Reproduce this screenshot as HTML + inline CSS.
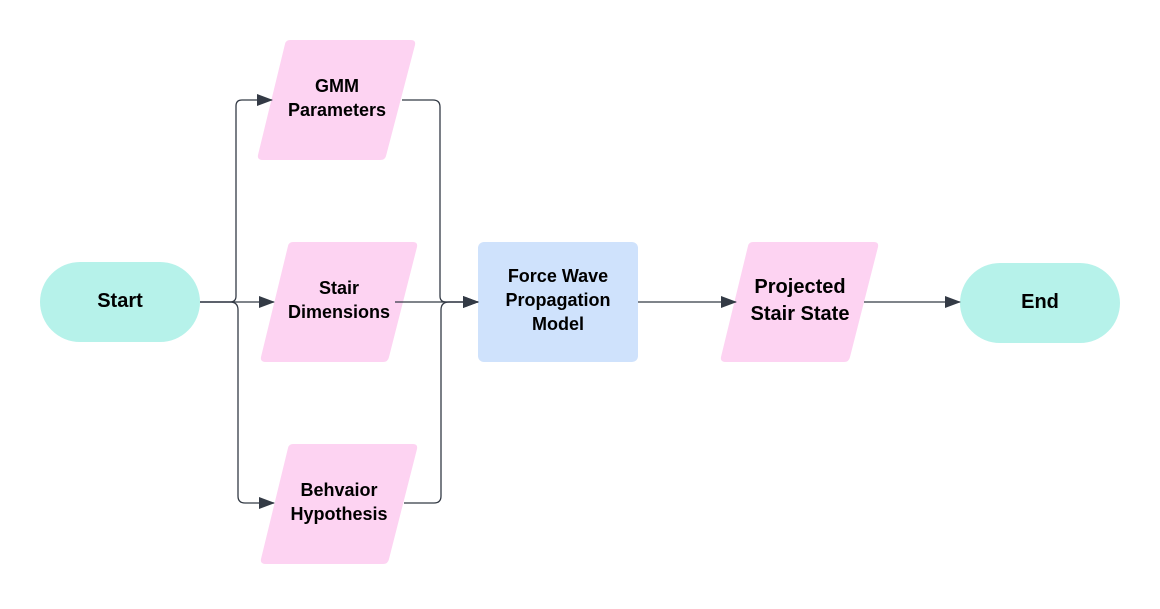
<!DOCTYPE html>
<html><head><style>
body{margin:0;background:#fff;}
svg text{font-family:"Liberation Sans",sans-serif;font-weight:bold;fill:#000;text-anchor:middle;}
</style></head><body>
<svg width="1160" height="604" viewBox="0 0 1160 604" xmlns="http://www.w3.org/2000/svg">
<defs><marker id="a" markerWidth="16" markerHeight="12" refX="15" refY="6" orient="auto" markerUnits="userSpaceOnUse"><path d="M0,0 L16,6 L0,12 z" fill="#333a45"/></marker></defs>
<rect x="40" y="262" width="160" height="80" rx="40" fill="#b6f2ea"/>
<rect x="960" y="263" width="160" height="80" rx="40" fill="#b6f2ea"/>
<rect x="478" y="242" width="160" height="120" rx="6" fill="#cfe2fc"/>
<g fill="#fdd3f2">
<path d="M290,40 L411,40 Q416,40 415,45 L386,156 Q385,160 380,160 L263,160 Q257,160 258,155 L285,44 Q286,40 290,40z"/>
<path d="M293,242 L413,242 Q418,242 417,247 L389,357 Q388,362 383,362 L266,362 Q260,362 261,357 L288,246 Q289,242 293,242z"/>
<path d="M293,444 L413,444 Q418,444 417,449 L389,559 Q388,564 383,564 L266,564 Q260,564 261,559 L288,448 Q289,444 293,444z"/>
<path d="M753,242 L874,242 Q879,242 878,247 L850,357 Q849,362 844,362 L726,362 Q720,362 721,357 L748,246 Q749,242 753,242z"/>
</g>
<g fill="none" stroke="#333a45" stroke-width="1.3">
<path d="M200,302 L230,302 Q236,302 236,296 L236,106 Q236,100 242,100 L272,100" marker-end="url(#a)"/>
<path d="M200,302 L274,302" marker-end="url(#a)"/>
<path d="M200,302 L230,302 Q238,302 238,310 L238,496 Q238,503 245,503 L274,503" marker-end="url(#a)"/>
<path d="M402,100 L433,100 Q440,100 440,107 L440,296 Q440,302 446,302 L478,302" marker-end="url(#a)"/>
<path d="M395,302 L478,302" marker-end="url(#a)"/>
<path d="M404,503 L434,503 Q441,503 441,496 L441,310 Q441,302 449,302 L478,302" marker-end="url(#a)"/>
<path d="M638,302 L736,302" marker-end="url(#a)"/>
<path d="M864,302 L960,302" marker-end="url(#a)"/>
</g>
<text x="120" y="307" font-size="20">Start</text>
<text x="1040" y="308" font-size="20">End</text>
<text x="337" y="92" font-size="18">GMM</text>
<text x="337" y="116" font-size="18">Parameters</text>
<text x="339" y="294" font-size="18">Stair</text>
<text x="339" y="318" font-size="18">Dimensions</text>
<text x="339" y="496" font-size="18">Behvaior</text>
<text x="339" y="520" font-size="18">Hypothesis</text>
<text x="558" y="282" font-size="18">Force Wave</text>
<text x="558" y="306" font-size="18">Propagation</text>
<text x="558" y="330" font-size="18">Model</text>
<text x="800" y="293" font-size="20">Projected</text>
<text x="800" y="320" font-size="20">Stair State</text>
</svg>
</body></html>
